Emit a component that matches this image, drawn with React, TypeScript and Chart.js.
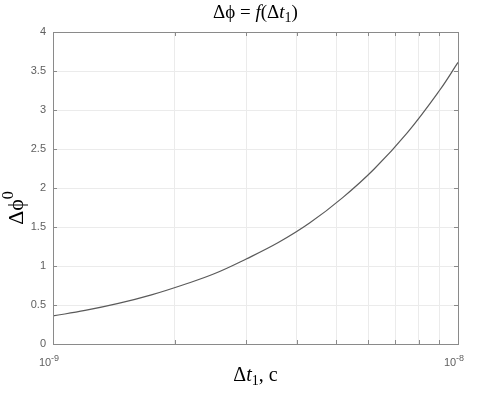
import React, { useEffect, useRef } from "react";
import { Chart, registerables } from "chart.js";

Chart.register(...registerables);

// ---- data ----
const dtValues = [1e-9, 1.2e-9, 1.45e-9, 1.75e-9, 2.1e-9, 2.5e-9, 3e-9, 3.6e-9, 4.3e-9, 5.2e-9, 6.2e-9, 7.5e-9, 9e-9, 1e-8];
const dphiValues = [0.36, 0.43, 0.52, 0.63, 0.76, 0.9, 1.09, 1.3, 1.55, 1.88, 2.24, 2.71, 3.25, 3.61];

const xTickValues = [1e-9, 2e-9, 3e-9, 4e-9, 5e-9, 6e-9, 7e-9, 8e-9, 9e-9, 1e-8];
// labelled x ticks: base and exponent
const xLabelValues = [1e-9, 1e-8];
const xLabelBases = ["10", "10"];
const xLabelExps = ["-9", "-8"];
const yTickValues = [0, 0.5, 1, 1.5, 2, 2.5, 3, 3.5, 4];
const yTickLabels = ["0", "0.5", "1", "1.5", "2", "2.5", "3", "3.5", "4"];

type Seg = { text: string; italic?: boolean; sub?: boolean; sup?: boolean };
const titleSegs: Seg[] = [
  { text: "\u0394\u03D5 = " },
  { text: "f", italic: true },
  { text: "(\u0394" },
  { text: "t", italic: true },
  { text: "1", sub: true },
  { text: ")" },
];
const xTitleSegs: Seg[] = [
  { text: "\u0394" },
  { text: "t", italic: true },
  { text: "1", sub: true },
  { text: ", c" },
];
const yTitleSegs: Seg[] = [{ text: "\u0394\u03D5" }, { text: "0", sup: true }];

const SERIF = "'Liberation Serif', 'Times New Roman', serif";
const SANS = "'Liberation Sans', Arial, sans-serif";
const TICK_COLOR = "#606060";

function segFont(s: Seg, size: number) {
  const sz = s.sub || s.sup ? Math.round(size * 0.72) : size;
  return `${s.italic ? "italic " : ""}${sz}px ${SERIF}`;
}

function drawRich(ctx: CanvasRenderingContext2D, segs: Seg[], size: number, cx: number, baseY: number) {
  let total = 0;
  const widths = segs.map((s) => {
    ctx.font = segFont(s, size);
    const w = ctx.measureText(s.text).width;
    total += w;
    return w;
  });
  let x = cx - total / 2;
  ctx.textAlign = "left";
  ctx.textBaseline = "alphabetic";
  segs.forEach((s, i) => {
    ctx.font = segFont(s, size);
    let y = baseY;
    if (s.sub) y += size * 0.22;
    if (s.sup) y -= size * 0.45;
    ctx.fillText(s.text, x, y);
    x += widths[i];
  });
}

const decorPlugin = {
  id: "decor",
  afterDraw(chart: any) {
    const { ctx, chartArea: a } = chart;
    const xs = chart.scales.x;
    const ys = chart.scales.y;
    ctx.save();
    // inward tick marks
    ctx.strokeStyle = "#8a8a8a";
    ctx.lineWidth = 1;
    ctx.beginPath();
    yTickValues.forEach((v) => {
      const y = Math.round(ys.getPixelForValue(v)) + 0.5;
      ctx.moveTo(a.left, y);
      ctx.lineTo(a.left + 4, y);
      ctx.moveTo(a.right, y);
      ctx.lineTo(a.right - 4, y);
    });
    xTickValues.forEach((v) => {
      const x = Math.round(xs.getPixelForValue(v)) + 0.5;
      ctx.moveTo(x, a.bottom);
      ctx.lineTo(x, a.bottom - 4);
      ctx.moveTo(x, a.top);
      ctx.lineTo(x, a.top + 4);
    });
    ctx.stroke();
    // box
    ctx.strokeRect(Math.round(a.left) + 0.5, Math.round(a.top) + 0.5, Math.round(a.right - a.left), Math.round(a.bottom - a.top));
    // x tick labels with exponents
    ctx.fillStyle = TICK_COLOR;
    ctx.textAlign = "left";
    ctx.textBaseline = "alphabetic";
    xLabelValues.forEach((v, i) => {
      const px = xs.getPixelForValue(v);
      ctx.font = `11px ${SANS}`;
      const wb = ctx.measureText(xLabelBases[i]).width;
      ctx.font = `9px ${SANS}`;
      const we = ctx.measureText(xLabelExps[i]).width;
      const x0 = px - 4 - (wb + we) / 2;
      ctx.font = `11px ${SANS}`;
      ctx.fillText(xLabelBases[i], x0, a.bottom + 21.5);
      ctx.font = `9px ${SANS}`;
      ctx.fillText(xLabelExps[i], x0 + wb, a.bottom + 17);
    });
    // titles
    ctx.fillStyle = "#000";
    const cx = (a.left + a.right) / 2;
    drawRich(ctx, titleSegs, 19, cx, 18);
    drawRich(ctx, xTitleSegs, 20, cx, 381);
    ctx.translate(23, 208);
    ctx.rotate(-Math.PI / 2);
    drawRich(ctx, yTitleSegs, 22, 0, 0);
    ctx.restore();
  },
};

export default function App() {
  const ref = useRef<HTMLCanvasElement>(null);
  useEffect(() => {
    document.body.style.margin = "0";
    const canvas = ref.current!;
    const chart = new Chart(canvas, {
      type: "line",
      data: {
        datasets: [
          {
            data: dtValues.map((x, i) => ({ x, y: dphiValues[i] })),
            borderColor: "#5a5a5a",
            borderWidth: 1.2,
            pointRadius: 0,
            fill: false,
            tension: 0.4,
          },
        ],
      },
      options: {
        responsive: false,
        animation: false,
        devicePixelRatio: 1,
        layout: { padding: { top: 32, right: 26, left: 0, bottom: 0 } },
        plugins: { legend: { display: false }, title: { display: false }, tooltip: { enabled: false } },
        scales: {
          x: {
            type: "logarithmic",
            min: 1e-9,
            max: 1e-8,
            afterBuildTicks: (scale: any) => {
              scale.ticks = xTickValues.map((v) => ({ value: v }));
            },
            afterFit: (scale: any) => {
              scale.height = 49;
            },
            border: { display: false },
            grid: { color: "#ebebeb", drawTicks: false, lineWidth: 1 },
            ticks: {
              autoSkip: false,
              maxRotation: 0,
              padding: 13,
              color: TICK_COLOR,
              font: { family: SANS, size: 10 },
              callback: () => "",
            },
          },
          y: {
            min: 0,
            max: 4,
            afterBuildTicks: (scale: any) => {
              scale.ticks = yTickValues.map((v) => ({ value: v }));
            },
            afterFit: (scale: any) => {
              scale.width = 53;
            },
            border: { display: false },
            grid: { color: "#ebebeb", drawTicks: false, lineWidth: 1 },
            ticks: {
              padding: 7,
              color: TICK_COLOR,
              font: { family: SANS, size: 11 },
              callback: (v: any) => {
                const i = yTickValues.findIndex((t) => Math.abs(t - Number(v)) < 1e-9);
                return i >= 0 ? yTickLabels[i] : "";
              },
            },
          },
        },
      },
      plugins: [decorPlugin],
    } as any);
    return () => chart.destroy();
  }, []);
  return (
    <div style={{ width: 484, height: 393, background: "#fff" }}>
      <canvas ref={ref} width={484} height={393} style={{ display: "block" }} />
    </div>
  );
}
